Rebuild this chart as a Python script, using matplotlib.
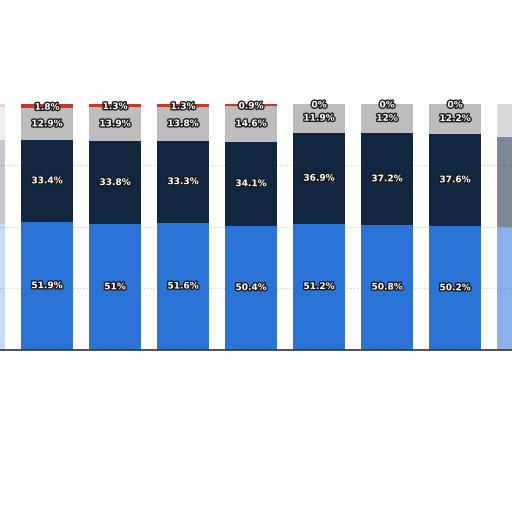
import matplotlib.pyplot as plt
import matplotlib.patheffects as pe
import numpy as np

# bar values (%), bottom to top; first and last bars are cut off at the image edge
blue = [51.0, 51.9, 51.0, 51.6, 50.4, 51.2, 50.8, 50.2, 50.0]
navy = [34.0, 33.4, 33.8, 33.3, 34.1, 36.9, 37.2, 37.6, 36.5]
grey = [13.5, 12.9, 13.9, 13.8, 14.6, 11.9, 12.0, 12.2, 13.5]
red = [1.5, 1.8, 1.3, 1.3, 0.9, 0.0, 0.0, 0.0, 0.0]
positions = np.arange(-1, 8)
faded = [0.25, 1, 1, 1, 1, 1, 1, 1, 0.55]

colors = ['#2a74d8', '#11263f', '#bdbdbd', '#c0392b']

fig = plt.figure(figsize=(5.12, 5.12), dpi=100)
ax = fig.add_axes([0, 162.5 / 512, 1, 246 / 512])

x0 = -47 / 68
ax.set_xlim(x0, x0 + 512 / 68)
ax.set_ylim(0, 100)

for v in [25, 50, 75]:
    ax.axhline(v, color='#c8c8c8', lw=0.8, ls=(0, (1, 2)), zorder=0)

outline = [pe.withStroke(linewidth=2, foreground='#1a1a1a')]
for i, x in enumerate(positions):
    bottom = 0
    for vals, c in zip([blue, navy, grey, red], colors):
        v = vals[i]
        ax.bar(x, v, bottom=bottom, width=52 / 68, color=c, alpha=faded[i],
               edgecolor='none', zorder=2)
        if faded[i] == 1:
            ax.text(x, bottom + v / 2 - (0.6 if v < 2 else 0),
                    f'{v:g}%', ha='center', va='center', color='white',
                    fontsize=6.5, fontweight='bold', path_effects=outline,
                    zorder=5)
        bottom += v

ax.set_xticks([])
ax.set_yticks([])
for s in ['top', 'left', 'right']:
    ax.spines[s].set_visible(False)
ax.spines['bottom'].set_color('#333333')
ax.spines['bottom'].set_linewidth(1.2)

fig.savefig('out.png', dpi=100)
